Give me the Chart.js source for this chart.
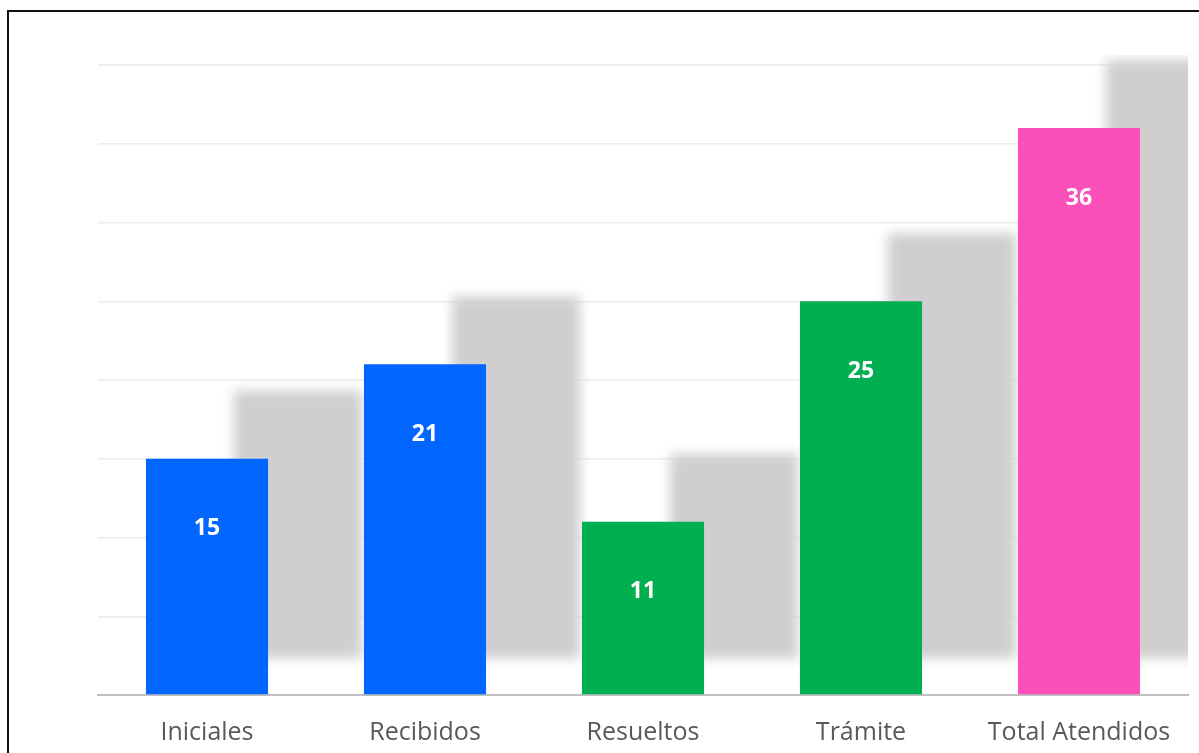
<!DOCTYPE html>
<html>
<head>
<meta charset="utf-8">
<script src="https://cdn.jsdelivr.net/npm/chart.js@4/dist/chart.umd.min.js"></script>
<style>
  html, body { margin: 0; padding: 0; background: #fff; overflow: hidden; }
  #wrap { position: absolute; left: 0; top: 0; width: 1199px; height: 753px; }
  #frame { position: absolute; left: 7px; top: 10px; width: 1250px; height: 800px; border: 2px solid #111; box-sizing: border-box; pointer-events: none; }
</style>
</head>
<body>
<div id="wrap"><canvas id="chart"></canvas></div>
<div id="frame"></div>
<script>
const categories = ["Iniciales", "Recibidos", "Resueltos", "Trámite", "Total Atendidos"];
const values = [15, 21, 11, 25, 36];
const barColors = ["#0066ff", "#0066ff", "#00b050", "#00b050", "#fb50b9"];

// gray blurred block behind each bar, shifted right and up
const shadowPlugin = {
  id: "shadowBlocks",
  beforeDatasetsDraw(chart) {
    const ctx = chart.ctx;
    const area = chart.chartArea;
    const meta = chart.getDatasetMeta(0);
    ctx.save();
    ctx.beginPath();
    ctx.rect(area.left, area.top - 10, area.right - area.left, area.bottom - area.top + 10);
    ctx.clip();
    ctx.filter = "blur(6px)";
    ctx.fillStyle = "#d0cece";
    meta.data.forEach((bar) => {
      const w = bar.width;
      const left = bar.x - w / 2 + 88;
      const top = bar.y - 68;
      const bottom = bar.base - 36;
      ctx.fillRect(left, top, w + 6, bottom - top);
    });
    ctx.restore();
  },
};

const labelPlugin = {
  id: "barLabels",
  afterDatasetsDraw(chart) {
    const ctx = chart.ctx;
    const meta = chart.getDatasetMeta(0);
    ctx.save();
    ctx.fillStyle = "#ffffff";
    ctx.font = "bold 23px 'Open Sans', Lato, sans-serif";
    ctx.textAlign = "center";
    ctx.textBaseline = "middle";
    meta.data.forEach((bar, i) => {
      ctx.fillText(String(values[i]), bar.x, bar.y + 70);
    });
    ctx.restore();
  },
};

new Chart(document.getElementById("chart"), {
  type: "bar",
  data: {
    labels: categories,
    datasets: [
      {
        data: values,
        backgroundColor: barColors,
        categoryPercentage: 1,
        barPercentage: 0.56,
      },
    ],
  },
  options: {
    responsive: true,
    maintainAspectRatio: false,
    animation: false,
    layout: { padding: { left: 98, right: 11, top: 65, bottom: 0 } },
    plugins: { legend: { display: false }, tooltip: { enabled: false } },
    scales: {
      y: {
        min: 0,
        max: 40,
        ticks: { display: false, stepSize: 5 },
        grid: { color: "#ececec", lineWidth: 1.5, drawTicks: false },
        border: { display: false },
      },
      x: {
        grid: { display: false },
        border: { color: "#bfbfbf", width: 2 },
        afterFit: (scale) => { scale.height = 58; },
        ticks: {
          color: "#595959",
          padding: 15,
          font: { family: "'Open Sans', Lato, sans-serif", size: 25 },
        },
      },
    },
  },
  plugins: [shadowPlugin, labelPlugin],
});
</script>
</body>
</html>
